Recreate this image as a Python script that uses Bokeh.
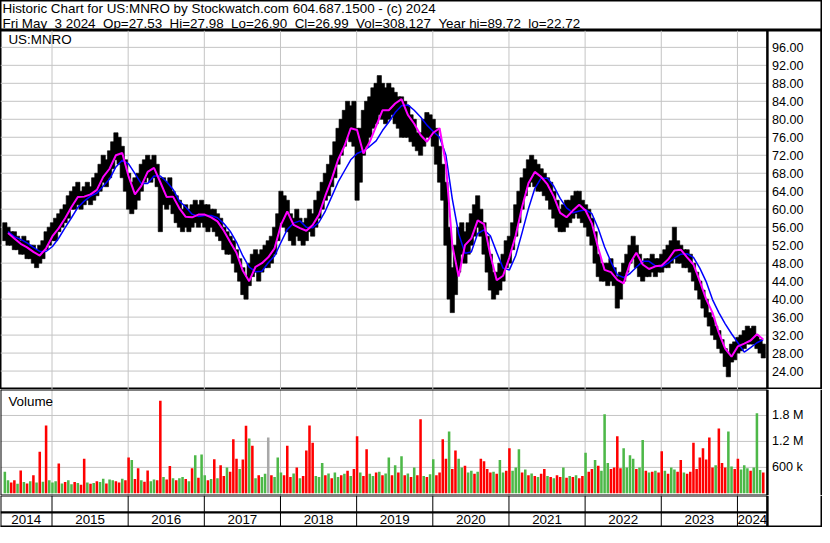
from bokeh.plotting import figure
from bokeh.layouts import column
from bokeh.models import Range1d, Span, Label
from bokeh.core.properties import value
from bokeh.embed import file_html
from bokeh.resources import INLINE

# ---------------- data ----------------
SP2 = " \u00a0"   # a visible double space
title_line1 = "Historic Chart for US:MNRO by Stockwatch.com 604.687.1500 - (c) 2024"
title_line2 = SP2.join(["Fri May", "3 2024", "Op=27.53", "Hi=27.98", "Lo=26.90", "Cl=26.99",
                        "Vol=308,127", "Year hi=89.72", "lo=22.72"])
symbol = "US:MNRO"

# half-month periods starting mid-May 2014 (24 per year)
first_period = 2014.36
periods_per_year = 24

price_high = [
    57, 56, 55, 55, 54, 53, 54, 53, 52, 52, 51, 52, 53, 55, 56, 57,
    58, 59, 60, 61, 63, 64, 65, 66, 64, 65, 66, 65, 67, 68, 70, 72, 71, 73, 75, 77, 76, 74, 71, 68,
    66, 67, 68, 70, 71, 72, 71, 72, 70, 67, 67, 66, 67, 64, 63, 62, 60, 61, 60, 61, 62, 61, 62, 61,
    61, 60, 60, 59, 58, 56, 55, 54, 53, 51, 49, 47, 45, 48, 50, 51, 50, 51, 52, 53, 54, 56, 59, 64,
    63, 62, 59, 58, 60, 58, 57, 58, 60, 59, 62, 64, 66, 68, 70, 72, 75, 78, 80, 82, 84, 83, 84, 78,
    78, 82, 84, 85, 87, 88, 89.72, 88, 87, 88, 87, 86, 85, 85, 84, 83, 81, 80, 77, 77, 80, 81.5, 81, 80,
    78, 74, 70, 66, 56, 47, 52, 56, 57, 55, 57, 59, 61, 63, 60, 57, 54, 50, 46, 46, 48, 50, 53, 54,
    57, 61, 64, 67, 69, 71, 72, 71, 70, 69, 68, 67, 66, 64, 62, 60, 61, 62, 62, 63, 64, 64, 62, 61,
    60, 58, 55, 50, 48, 48, 48, 49, 47, 45, 46, 48, 50, 52, 54, 52, 50, 48, 49, 49, 50, 49, 49, 50,
    51, 52, 53, 56, 53, 52, 51, 51, 50, 48, 46, 44, 42, 40, 37, 36, 34, 33, 31, 29, 28, 30, 30.5, 31.5,
    32, 33, 34, 33.5, 34, 32, 31, 30,
]
price_low = [
    53, 52, 52, 51, 51, 50, 50, 49, 49, 48, 47, 48, 49, 51, 52, 53,
    53, 55, 56, 57, 58, 60, 60, 61, 60, 61, 62, 61, 62, 63, 64, 66, 65, 67, 69, 71, 70, 67, 64, 60,
    59, 60, 62, 64, 66, 67, 66, 67, 65, 55, 61, 60, 61, 59, 57, 56, 55, 56, 55, 56, 57, 56, 57, 56,
    55, 56, 55, 54, 53, 51, 50, 50, 48, 46, 44, 41, 40, 43, 45, 46, 44, 46, 47, 47, 48, 50, 53, 57,
    56, 55, 53, 52, 54, 53, 52, 53, 55, 54, 56, 58, 60, 62, 63, 65, 67, 70, 72, 74, 76, 75, 74, 62,
    66, 72, 74, 76, 78, 79, 81, 80, 79, 80, 81, 79, 78, 76, 76, 76, 75, 74, 73, 72, 74, 76, 76, 74,
    70, 66, 62, 52, 40, 37, 41, 46, 50, 48, 50, 52, 54, 56, 54, 50, 46, 42, 40, 41, 42, 44, 47, 48,
    51, 54, 57, 60, 63, 65, 66, 65, 64, 64, 63, 62, 60, 58, 56, 55, 55, 56, 57, 58, 59, 58, 57, 56,
    54, 52, 48, 45, 44, 44, 43, 44, 43, 38, 40, 44, 46, 48, 49, 47, 45, 44, 45, 45, 46, 45, 46, 46,
    47, 47, 48, 49, 48, 48, 47, 47, 46, 44, 42, 40, 38, 36, 34, 32, 31, 29, 28, 25, 22.72, 26, 26.5, 28,
    28.5, 29, 30, 30, 30, 29, 28, 26.9,
]

# monthly readings of the two moving-average lines
ma_short = [
    54.7, 53.5, 52.3, 51.5, 50.5, 49.7, 51.3, 54.0, 55.8, 58.0, 60.5, 62.7,
    62.8, 63.3, 64.3, 67.2, 69.0, 72.0, 72.5, 67.3, 63.3, 65.2, 68.3, 69.2,
    66.0, 62.7, 62.8, 60.2, 58.3, 58.2, 58.8, 58.8, 58.2, 57.3, 55.2, 52.7,
    50.3, 46.3, 44.0, 47.2, 48.0, 49.3, 51.3, 56.5, 59.5, 56.5, 55.8, 55.2,
    56.5, 58.8, 63.0, 66.7, 71.0, 74.0, 78.0, 77.6, 72.4, 75.0, 78.5, 82.0,
    82.0, 83.5, 84.5, 81.0, 79.0, 76.5, 75.0, 77.0, 78.0, 70.0, 52.0, 45.0,
    52.0, 53.5, 57.5, 56.7, 49.8, 44.2, 45.2, 49.3, 54.2, 60.5, 65.8, 68.3,
    67.2, 65.5, 62.8, 59.2, 58.2, 59.7, 61.0, 59.7, 56.8, 51.3, 46.5, 46.0,
    44.3, 43.5, 48.0, 50.3, 47.7, 46.7, 47.3, 47.5, 48.8, 50.8, 51.0, 49.3,
    47.7, 44.0, 40.0, 37.0, 32.5, 29.0, 27.2, 29.5, 30.1, 30.8, 32.2, 31.0,
]
ma_long = [
    55.0, 53.9, 53.3, 52.5, 51.5, 50.6, 50.6, 51.7, 53.6, 55.9, 58.1, 60.4,
    61.8, 62.9, 63.6, 65.1, 66.7, 69.4, 70.9, 70.1, 67.9, 65.7, 65.7, 67.4,
    67.4, 66.1, 64.4, 61.8, 60.5, 58.9, 58.4, 58.6, 58.6, 58.1, 56.8, 55.1,
    52.7, 49.6, 47.1, 46.1, 46.2, 48.1, 49.6, 52.6, 55.5, 56.9, 57.4, 56.0,
    55.9, 57.1, 59.6, 62.8, 66.0, 68.5, 71.0, 72.4, 73.0, 74.0, 75.2, 77.5,
    79.4, 81.5, 83.0, 83.2, 82.0, 80.5, 78.7, 77.3, 76.0, 72.0, 62.3, 54.6,
    50.2, 50.5, 54.6, 55.4, 54.1, 50.4, 46.9, 46.5, 49.7, 54.8, 60.1, 64.6,
    66.9, 66.9, 65.1, 62.4, 60.3, 59.2, 59.6, 59.9, 59.0, 55.7, 51.6, 48.3,
    45.4, 44.8, 45.7, 47.1, 48.4, 48.4, 47.4, 47.2, 48.0, 49.1, 50.0, 50.1,
    49.3, 46.9, 43.9, 39.9, 37.0, 34.5, 32.3, 30.3, 28.2, 29.2, 30.3, 31.0,
]

# volume per half-month period, in thousands of shares
volume_k = [
    500, 300, 250, 300, 220, 530, 260, 230, 280, 420, 250, 960, 270, 1570, 300, 250,
    280, 690, 230, 260, 300, 210, 260, 240, 200, 800, 250, 220, 240, 280, 260, 340, 230, 320, 300, 280, 250, 340, 300, 830,
    770, 330, 580, 300, 270, 530, 280, 320, 300, 2140, 380, 320, 630, 350, 300, 350, 380, 330, 280, 580, 880, 360, 900, 420,
    300, 330, 790, 350, 650, 400, 600, 500, 1250, 800, 560, 780, 1560, 1270, 1100, 350, 420, 380, 450, 1290, 420, 380, 830, 480,
    420, 1100, 380, 460, 600, 350, 400, 990, 1570, 1170, 400, 380, 700, 420, 460, 350, 480, 380, 420, 450, 520, 400, 560, 1320,
    480, 400, 1020, 450, 400, 480, 500, 420, 460, 830, 420, 650, 480, 860, 420, 460, 380, 600, 420, 1710, 400, 380, 440, 790,
    420, 480, 1250, 800, 1430, 560, 990, 800, 600, 640, 480, 520, 450, 500, 800, 740, 560, 480, 500, 450, 770, 480, 520, 1040,
    520, 600, 1020, 480, 550, 420, 460, 400, 380, 450, 560, 400, 380, 350, 420, 380, 600, 360, 400, 380, 420, 350, 400, 940,
    500, 560, 770, 640, 520, 1830, 700, 560, 600, 1320, 580, 1040, 600, 880, 800, 560, 600, 1230, 520, 480, 500, 520, 480, 970,
    520, 450, 600, 550, 500, 770, 480, 450, 500, 1170, 560, 830, 1040, 780, 1290, 600, 650, 1500, 700, 600, 1430, 620, 560, 800,
    550, 650, 580, 520, 600, 1850, 540, 480,
]
# r = down period, g = up period, n = unchanged
volume_dir = "".join([
    "ggrrgrgrgrgrgrgg",
    "grgrggrgrrgrgrggrggrrgrr",
    "grrgrrggrrgrrgrggrgrgrgg",
    "rgrgrrgrrrgrrgrgrggnrggg",
    "rrrgrgrrrrgggrgrggrgrgrr",
    "grrggrgrggrgrgrgrgrrgrgg",
    "rrrrgrrggrggrgrrrrgrggrr",
    "gggrgrgrgrrgrgrrgrgrgrrg",
    "rrgrgggrrrrggggrggrgrgrr",
    "grggrrgrrrrrrrrrgrrrggrr",
    "gggrgggr",
])

price_ticks = [24, 28, 32, 36, 40, 44, 48, 52, 56, 60, 64, 68, 72, 76, 80, 84, 88, 92, 96]
price_tick_labels = ["%.2f" % v for v in price_ticks]
volume_ticks_k = [600, 1200, 1800]
volume_tick_labels = ["600 k", "1.2 M", "1.8 M"]
years = [2014, 2015, 2016, 2017, 2018, 2019, 2020, 2021, 2022, 2023, 2024]
year_starts = [2015, 2016, 2017, 2018, 2019, 2020, 2021, 2022, 2023, 2024]

# ---------------- layout / style ----------------
FONT = "Liberation Sans"
FS_TITLE = "13.4px"
FS = "12.6px"
W = 822
H_T, H_P, H_V, H_B = 30, 359, 106, 32
PX_PER_YEAR = 76.16
X_2015 = 51.5
GRID = "#C4C4C4"
RED = "#FF0000"
GREEN = "#4DB848"
GRAY = "#A8A8A8"


def t_at(px):
    return 2015 + (px - X_2015) / PX_PER_YEAR


T_LEFT, T_RIGHT = t_at(0), t_at(W)
T_BOUND = t_at(766.9)
T_LABEL = t_at(771.5)
P_MIN, P_MAX = 19.9, 99.75
V_MIN, V_MAX = -50, 2400
B_MAX = 33.0

n = len(price_high)
bar_t = [first_period + (i + 0.5) / periods_per_year for i in range(n)]
ma_t = [bar_t[2 * j + 1] for j in range(len(ma_short))]
vol_colors = [{"r": RED, "g": GREEN, "n": GRAY}[c] for c in volume_dir]

xr = Range1d(T_LEFT, T_RIGHT)


def base_fig(h, x_range, y_range):
    f = figure(width=W, height=h, x_range=x_range, y_range=y_range,
               output_backend="svg", toolbar_location=None, title=None,
               x_axis_type=None, y_axis_type=None, min_border=0)
    f.outline_line_color = None
    f.background_fill_color = "white"
    f.border_fill_color = "white"
    return f


def vspan(f, loc, w):
    f.add_layout(Span(location=loc, dimension="height", line_color="black", line_width=w))


# ---- title strip ----
pt = base_fig(H_T, Range1d(0, W), Range1d(0, H_T))
pt.outline_line_color = "black"
pt.outline_line_width = 2
pt.add_layout(Label(x=2, y=22.4, text=title_line1, text_font=FONT, text_font_size=FS_TITLE,
                    text_color="black", text_baseline="alphabetic"))
pt.add_layout(Label(x=2, y=7.2, text=title_line2, text_font=FONT, text_font_size=FS_TITLE,
                    text_color="black", text_baseline="alphabetic"))

# ---- price panel ----
pp = base_fig(H_P, xr, Range1d(P_MIN, P_MAX))
pp.outline_line_color = "black"
pp.outline_line_width = 2
g1 = pp.segment(x0=[T_LEFT] * len(price_ticks), x1=[T_BOUND] * len(price_ticks),
                y0=price_ticks, y1=price_ticks, line_color=GRID, line_width=1)
g2 = pp.segment(x0=year_starts, x1=year_starts, y0=[P_MIN] * len(year_starts),
                y1=[P_MAX] * len(year_starts), line_color=GRID, line_width=1)
g1.level = "underlay"
g2.level = "underlay"
pp.vbar(x=bar_t, bottom=price_low, top=price_high, width=1.35 / periods_per_year,
        fill_color="black", line_color="black", line_width=0.6)
pp.line(ma_t, ma_long, line_color="#0000FF", line_width=1.5)
pp.line(ma_t, ma_short, line_color="#FF00FF", line_width=2)
vspan(pp, T_BOUND, 2.5)
vspan(pp, T_RIGHT, 4)
pp.text(x=[T_LABEL] * len(price_ticks), y=price_ticks, text=price_tick_labels,
        text_font=value(FONT), text_font_size=value(FS), text_color="black",
        text_baseline="middle", text_align="left")
pp.add_layout(Label(x=t_at(7.9), y=P_MAX - 9 / 370 * (P_MAX - P_MIN), text=symbol,
                    text_font=FONT, text_font_size=FS_TITLE, text_color="black",
                    text_baseline="middle"))

# ---- volume panel ----
pv = base_fig(H_V, xr, Range1d(V_MIN, V_MAX))
h1 = pv.segment(x0=[T_LEFT] * len(volume_ticks_k), x1=[T_BOUND] * len(volume_ticks_k),
                y0=volume_ticks_k, y1=volume_ticks_k, line_color=GRID, line_width=1)
h2 = pv.segment(x0=year_starts, x1=year_starts, y0=[V_MIN] * len(year_starts),
                y1=[V_MAX] * len(year_starts), line_color=GRID, line_width=1)
h1.level = "underlay"
h2.level = "underlay"
pv.vbar(x=bar_t, bottom=0, top=volume_k, width=0.8 / periods_per_year,
        fill_color=vol_colors, line_color=None)
pv.segment(x0=[T_LEFT, T_LEFT], x1=[T_BOUND, T_BOUND], y0=[V_MAX, V_MIN], y1=[V_MAX, V_MIN],
           line_color="black", line_width=2)
vspan(pv, T_LEFT, 2)
vspan(pv, T_RIGHT, 4)
vspan(pv, T_BOUND, 2.5)
pv.text(x=[T_LABEL] * len(volume_ticks_k), y=volume_ticks_k, text=volume_tick_labels,
        text_font=value(FONT), text_font_size=value(FS), text_color="black",
        text_baseline="middle", text_align="left")
pv.add_layout(Label(x=t_at(7.9), y=V_MAX - 12 / 109 * (V_MAX - V_MIN), text="Volume",
                    text_font=FONT, text_font_size=FS_TITLE, text_color="black",
                    text_baseline="middle"))

# ---- year strip ----
pb = base_fig(H_B, xr, Range1d(0, B_MAX))
edges = [T_LEFT] + year_starts + [T_BOUND]
centers = [(edges[k] + edges[k + 1]) / 2 for k in range(len(years))]
pb.segment(x0=year_starts, x1=year_starts, y0=[0] * len(year_starts),
           y1=[B_MAX] * len(year_starts), line_color="black", line_width=1)
pb.segment(x0=[T_LEFT, T_LEFT], x1=[T_BOUND, T_BOUND], y0=[B_MAX, 15.5], y1=[B_MAX, 15.5],
           line_color="black", line_width=[2, 2.2])
pb.add_layout(Span(location=0, dimension="width", line_color="black", line_width=4))
vspan(pb, T_LEFT, 2)
vspan(pb, T_RIGHT, 4)
vspan(pb, T_BOUND, 2.5)
pb.text(x=centers, y=[8.3] * len(years), text=[str(y) for y in years],
        text_font=value(FONT), text_font_size=value(FS_TITLE), text_color="black",
        text_baseline="middle", text_align="center")

layout = column(pt, pp, pv, pb, spacing=0)
open("out.html", "w").write(file_html(layout, INLINE))
